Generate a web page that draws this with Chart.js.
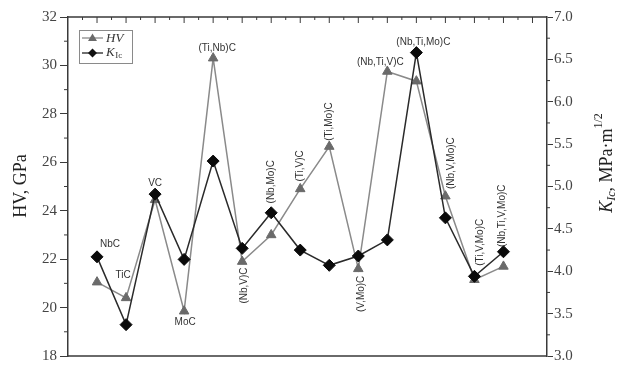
<!DOCTYPE html>
<html>
<head>
<meta charset="utf-8">
<script src="https://cdn.jsdelivr.net/npm/chart.js@4.4.0/dist/chart.umd.min.js"></script>
<style>
html, body { margin: 0; padding: 0; background: #fff; }
#wrap { position: relative; width: 632px; height: 374px; }
</style>
</head>
<body>
<div id="wrap"><canvas id="hvChart"></canvas></div>
<script>
const categories = ['NbC', 'TiC', 'VC', 'MoC', '(Ti,Nb)C', '(Nb,V)C', '(Nb,Mo)C', '(Ti,V)C',
    '(Ti,Mo)C', '(V,Mo)C', '(Nb,Ti,V)C', '(Nb,Ti,Mo)C', '(Nb,V,Mo)C', '(Ti,V,Mo)C', '(Nb,Ti,V,Mo)C'];
const hvValues = [21.05, 20.4, 24.45, 19.85, 30.3, 21.9, 23.0, 24.9, 26.65, 21.6, 29.75, 29.35, 24.6, 21.15, 21.7];
const kicValues = [4.17, 3.37, 4.91, 4.14, 5.30, 4.27, 4.69, 4.25, 4.07, 4.18, 4.37, 6.58, 4.63, 3.94, 4.23];
const hvRange = [18, 32];
const kicRange = [3.0, 7.0];

const axisColor = '#3a3a3a';
const serif = '"Liberation Serif", "DejaVu Serif", serif';
const sans = '"Liberation Sans", Arial, sans-serif';

// where each compound name sits relative to its point
const labelPlacement = [
    { on: 'k', dx: 13, dy: -13, rot: false },
    { on: 'hv', dx: -3, dy: -23, rot: false },
    { on: 'k', dx: 0, dy: -11, rot: false },
    { on: 'hv', dx: 1, dy: 11, rot: false },
    { on: 'hv', dx: 4, dy: -10, rot: false },
    { on: 'hv', dx: 2, dy: 24, rot: true },
    { on: 'k', dx: 0, dy: -31, rot: true },
    { on: 'hv', dx: 0, dy: -23, rot: true },
    { on: 'hv', dx: 0, dy: -25, rot: true },
    { on: 'hv', dx: 3, dy: 25, rot: true },
    { on: 'hv', dx: -7, dy: -9, rot: false },
    { on: 'k', dx: 7, dy: -10, rot: false },
    { on: 'hv', dx: 6, dy: -33, rot: true },
    { on: 'k', dx: 6, dy: -34, rot: true },
    { on: 'k', dx: -1, dy: -36, rot: true }
];

function drawRuns(ctx, runs, x, y, angle) {
    ctx.save();
    ctx.translate(x, y);
    ctx.rotate(angle);
    let total = 0;
    runs.forEach(r => { ctx.font = r.font; total += ctx.measureText(r.t).width; });
    let cx = -total / 2;
    ctx.textBaseline = 'middle';
    ctx.textAlign = 'left';
    runs.forEach(r => {
        ctx.font = r.font;
        ctx.fillStyle = r.color || '#222';
        ctx.fillText(r.t, cx, r.dy || 0);
        cx += ctx.measureText(r.t).width;
    });
    ctx.restore();
}

const framePlugin = {
    id: 'frame',
    beforeDatasetsDraw(chart) {
        const ctx = chart.ctx;
        const a = chart.chartArea;
        const xs = chart.scales.x, ys = chart.scales.y, ks = chart.scales.y1;
        ctx.save();
        ctx.strokeStyle = axisColor;
        ctx.lineWidth = 1.5;
        ctx.beginPath();
        ctx.moveTo(a.left, a.top); ctx.lineTo(a.right, a.top);
        ctx.moveTo(a.left, a.bottom); ctx.lineTo(a.right, a.bottom);
        ctx.stroke();
        ctx.lineWidth = 1;
        ctx.beginPath();
        // top ticks, pointing inward
        for (let v = -0.5; v <= 15.01; v += 0.5) {
            const px = xs.getPixelForValue(v);
            const len = Number.isInteger(v) ? 6 : 3;
            ctx.moveTo(px, a.top); ctx.lineTo(px, a.top + len);
        }
        // left minor ticks
        for (let v = hvRange[0] + 1; v < hvRange[1]; v += 2) {
            const py = ys.getPixelForValue(v);
            ctx.moveTo(a.left, py); ctx.lineTo(a.left - 4, py);
        }
        // right minor ticks
        for (let v = kicRange[0] + 0.25; v < kicRange[1]; v += 0.5) {
            const py = ks.getPixelForValue(v);
            ctx.moveTo(a.right, py); ctx.lineTo(a.right + 3, py);
        }
        ctx.stroke();

        // axis titles
        drawRuns(ctx, [{ t: 'HV, GPa', font: '18px ' + serif }], 21, 186, -Math.PI / 2);
        drawRuns(ctx, [
            { t: 'K', font: 'italic 18px ' + serif },
            { t: 'Ic', font: 'italic 12px ' + serif, dy: 5 },
            { t: ', MPa\u00b7m', font: '18px ' + serif },
            { t: '1/2', font: '12px ' + serif, dy: -8 }
        ], 607, 163, -Math.PI / 2);

        // legend box
        const lx = 79, ly = 30;
        ctx.strokeStyle = '#8a8a8a';
        ctx.lineWidth = 1;
        ctx.strokeRect(lx + 0.5, ly + 0.5, 53, 33);
        ctx.lineWidth = 1.3;
        ctx.strokeStyle = '#8a8a8a';
        ctx.beginPath(); ctx.moveTo(lx + 3, ly + 8); ctx.lineTo(lx + 24, ly + 8); ctx.stroke();
        ctx.fillStyle = '#6a6a6a';
        ctx.beginPath();
        ctx.moveTo(lx + 13.5, ly + 3.5); ctx.lineTo(lx + 18, ly + 11); ctx.lineTo(lx + 9, ly + 11);
        ctx.closePath(); ctx.fill();
        ctx.strokeStyle = '#222';
        ctx.beginPath(); ctx.moveTo(lx + 3, ly + 23); ctx.lineTo(lx + 24, ly + 23); ctx.stroke();
        ctx.fillStyle = '#111';
        ctx.beginPath();
        ctx.moveTo(lx + 13.5, ly + 18.5); ctx.lineTo(lx + 18, ly + 23); ctx.lineTo(lx + 13.5, ly + 27.5); ctx.lineTo(lx + 9, ly + 23);
        ctx.closePath(); ctx.fill();
        ctx.textBaseline = 'middle';
        ctx.fillStyle = '#333';
        ctx.font = 'italic 13px ' + serif;
        ctx.fillText('HV', lx + 27, ly + 8.5);
        ctx.fillText('K', lx + 27, ly + 23);
        const kw = ctx.measureText('K').width;
        ctx.font = '9px ' + serif;
        ctx.fillText('Ic', lx + 27 + kw + 0.5, ly + 26);
        ctx.restore();
    },
    afterDatasetsDraw(chart) {
        const ctx = chart.ctx;
        const hvMeta = chart.getDatasetMeta(1);
        const kMeta = chart.getDatasetMeta(0);
        ctx.save();
        categories.forEach((name, i) => {
            const p = labelPlacement[i];
            const pt = (p.on === 'k' ? kMeta : hvMeta).data[i];
            drawRuns(ctx, [{ t: name, font: '10px ' + sans, color: '#333' }],
                pt.x + p.dx, pt.y + p.dy, p.rot ? -Math.PI / 2 : 0);
        });
        ctx.restore();
    }
};

const ctx = document.getElementById('hvChart');
new Chart(ctx, {
    type: 'line',
    data: {
        datasets: [
            {
                label: 'KIc',
                yAxisID: 'y1',
                data: kicValues.map((v, i) => ({ x: i, y: v })),
                borderColor: '#2a2a2a',
                borderWidth: 1.5,
                pointStyle: 'rectRot',
                pointRadius: 6,
                pointBackgroundColor: '#0a0a0a',
                pointBorderColor: '#0a0a0a',
                pointBorderWidth: 1,
                tension: 0
            },
            {
                label: 'HV',
                yAxisID: 'y',
                data: hvValues.map((v, i) => ({ x: i, y: v })),
                borderColor: '#8a8a8a',
                borderWidth: 1.5,
                pointStyle: 'triangle',
                pointRadius: 5.5,
                pointBackgroundColor: '#6a6a6a',
                pointBorderColor: '#6a6a6a',
                pointBorderWidth: 1,
                tension: 0
            }
        ]
    },
    options: {
        responsive: true,
        maintainAspectRatio: false,
        animation: false,
        layout: { padding: { left: 0, right: 0, top: 17, bottom: 18 } },
        plugins: {
            legend: { display: false },
            tooltip: { enabled: false }
        },
        scales: {
            x: {
                type: 'linear',
                min: -1,
                max: 15.5,
                display: false
            },
            y: {
                position: 'left',
                min: hvRange[0],
                max: hvRange[1],
                ticks: {
                    stepSize: 2,
                    padding: 3,
                    color: '#444',
                    font: { family: serif, size: 15 }
                },
                grid: { drawOnChartArea: false, drawTicks: true, tickLength: 8, tickColor: axisColor, lineWidth: 1 },
                border: { display: true, color: axisColor, width: 1.5 },
                afterFit(scale) { scale.width = 68; }
            },
            y1: {
                position: 'right',
                min: kicRange[0],
                max: kicRange[1],
                ticks: {
                    stepSize: 0.5,
                    padding: 1,
                    color: '#444',
                    font: { family: serif, size: 15 },
                    callback: v => v.toFixed(1)
                },
                grid: { drawOnChartArea: false, drawTicks: true, tickLength: 6, tickColor: axisColor, lineWidth: 1 },
                border: { display: true, color: axisColor, width: 1.5 },
                afterFit(scale) { scale.width = 85; }
            }
        }
    },
    plugins: [framePlugin]
});
</script>
</body>
</html>
